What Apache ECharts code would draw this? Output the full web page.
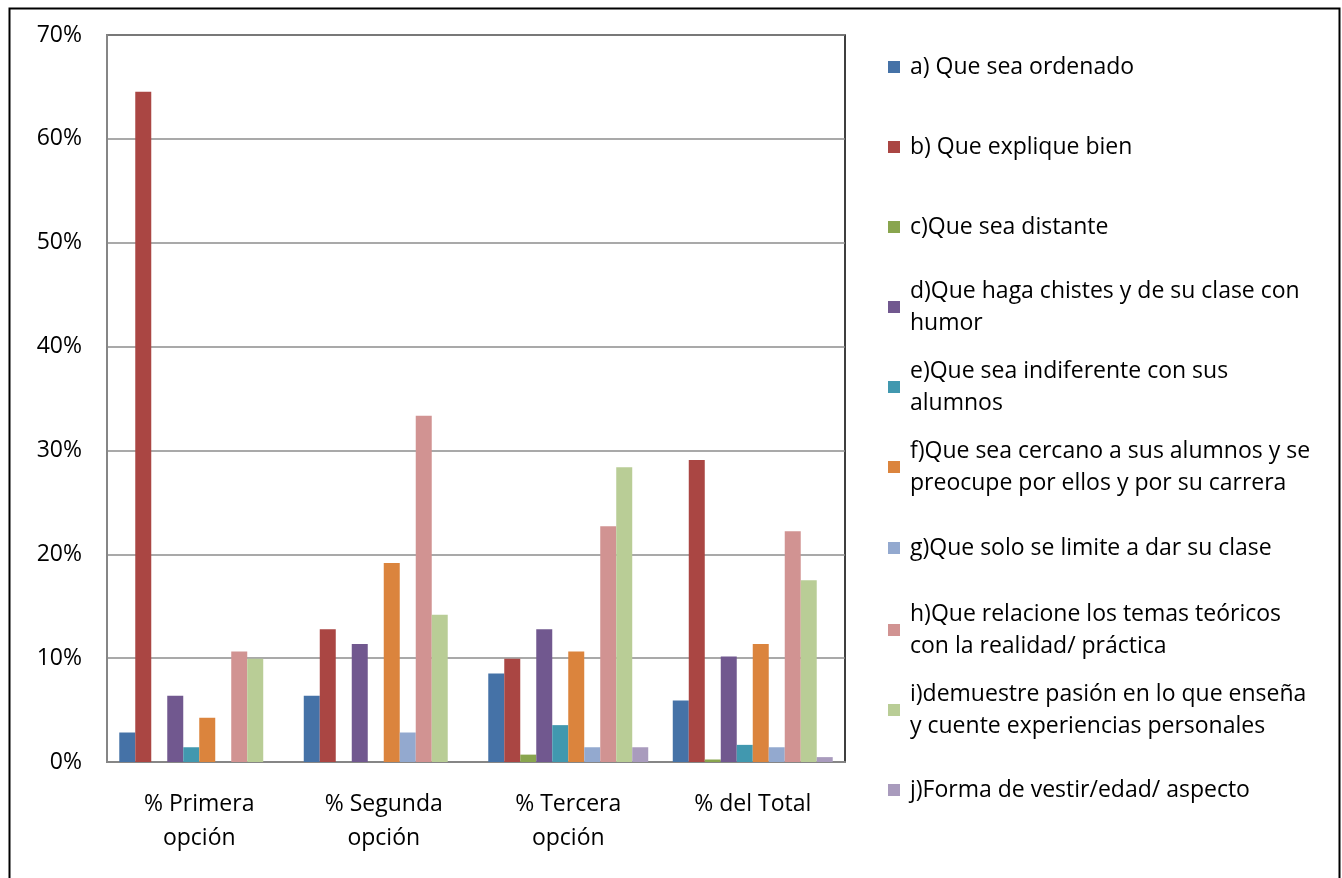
<!DOCTYPE html>
<html>
<head>
<meta charset="utf-8">
<script src="https://cdn.jsdelivr.net/npm/echarts@6/dist/echarts.min.js"></script>
<style>
html,body{margin:0;padding:0;background:#fff;}
#chart{width:1342px;height:878px;}
</style>
</head>
<body>
<div id="chart"></div>
<script>
const categories = ['% Primera\nopción', '% Segunda\nopción', '% Tercera\nopción', '% del Total'];
const seriesNames = [
  'a) Que sea ordenado',
  'b) Que explique bien',
  'c)Que sea distante',
  'd)Que haga chistes y de su clase con humor',
  'e)Que sea indiferente con sus alumnos',
  'f)Que sea cercano a sus alumnos y se preocupe por ellos y por su carrera',
  'g)Que solo se limite a dar su clase',
  'h)Que relacione los temas teóricos con la realidad/ práctica',
  'i)demuestre pasión en lo que enseña y cuente experiencias personales',
  'j)Forma de vestir/edad/ aspecto'
];
const legendLabels = [
  'a) Que sea ordenado',
  'b) Que explique bien',
  'c)Que sea distante',
  'd)Que haga chistes y de su clase con\nhumor',
  'e)Que sea indiferente con sus\nalumnos',
  'f)Que sea cercano a sus alumnos y se\npreocupe por ellos y por su carrera',
  'g)Que solo se limite a dar su clase',
  'h)Que relacione los temas teóricos\ncon la realidad/ práctica',
  'i)demuestre pasión en lo que enseña\ny cuente experiencias personales',
  'j)Forma de vestir/edad/ aspecto'
];
const a_ordenado   = [2.84, 6.38, 8.51, 5.91];
const b_explique   = [64.54, 12.77, 9.93, 29.08];
const c_distante   = [0, 0, 0.71, 0.24];
const d_chistes    = [6.38, 11.35, 12.77, 10.17];
const e_indiferente= [1.42, 0, 3.55, 1.65];
const f_cercano    = [4.26, 19.15, 10.64, 11.35];
const g_limite     = [0, 2.84, 1.42, 1.42];
const h_relacione  = [10.64, 33.33, 22.70, 22.22];
const i_pasion     = [9.93, 14.18, 28.37, 17.49];
const j_vestir     = [0, 0, 1.42, 0.47];
const seriesValues = [a_ordenado, b_explique, c_distante, d_chistes, e_indiferente, f_cercano, g_limite, h_relacione, i_pasion, j_vestir];

const colors = ['#4572A7','#AA4643','#89A54E','#71588F','#4198AF','#DB843D','#93A9CF','#D19392','#B9CD96','#A99BBD'];
const legendLineY = [67, 147, 227, 307, 387, 467, 548, 630, 710, 790];
const FONT = '"Open Sans", sans-serif';
const FS = 23;

const chart = echarts.init(document.getElementById('chart'));

const legends = seriesNames.map((n, i) => {
  const twoLine = legendLabels[i].indexOf('\n') >= 0;
  return {
    data: [n],
    orient: 'vertical',
    left: 888,
    top: twoLine ? legendLineY[i] - 48 : legendLineY[i] - 16,
    padding: 0,
    itemWidth: 12,
    itemHeight: 12,
    icon: 'rect',
    selectedMode: false,
    formatter: () => legendLabels[i],
    textStyle: {
      fontFamily: FONT,
      fontSize: FS,
      color: '#000',
      lineHeight: 32,
      padding: twoLine ? [32, 0, 0, 5] : [0, 0, 0, 5]
    }
  };
});

const option = {
  animation: false,
  backgroundColor: '#fff',
  color: colors,
  textStyle: { fontFamily: FONT },
  grid: {
    left: 107, right: 497, top: 35, bottom: 116,
    show: true, borderColor: '#000', borderWidth: 1.5, backgroundColor: 'transparent'
  },
  legend: legends,
  xAxis: {
    type: 'category',
    data: categories,
    axisLine: { show: true, lineStyle: { color: '#868686', width: 2 } },
    axisTick: { show: false },
    axisLabel: {
      fontFamily: FONT, fontSize: FS, color: '#000', lineHeight: 34, margin: 25, interval: 0
    }
  },
  yAxis: {
    type: 'value',
    min: 0, max: 70, interval: 10,
    axisLine: { show: true, lineStyle: { color: '#868686', width: 2 } },
    axisTick: { show: false },
    splitLine: { show: true, lineStyle: { color: '#8c8c8c', width: 1.5 } },
    axisLabel: {
      fontFamily: FONT, fontSize: FS, color: '#000', margin: 25,
      formatter: '{value}%'
    }
  },
  series: seriesNames.map((n, i) => ({
    name: n,
    type: 'bar',
    data: seriesValues[i],
    barGap: '0%',
    barCategoryGap: '13.3%',
    itemStyle: { color: colors[i] }
  })),
  graphic: [{
    type: 'rect',
    left: 7, top: 6,
    shape: { width: 1330, height: 900 },
    style: { fill: 'none', stroke: '#000', lineWidth: 2 },
    silent: true,
    z: 100
  }]
};
chart.setOption(option);
</script>
</body>
</html>
